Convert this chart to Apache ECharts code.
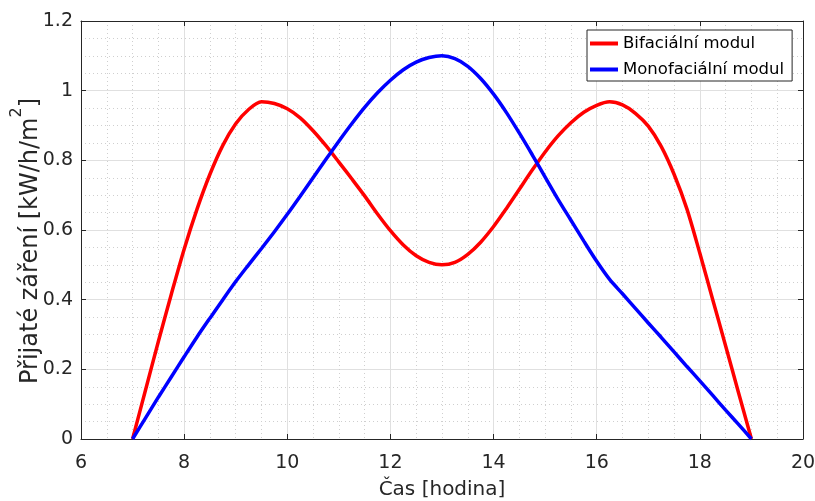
<!DOCTYPE html>
<html lang="cs">
<head>
    <meta charset="UTF-8">
    <title>Přijaté záření</title>
    <style>
        html, body { margin: 0; padding: 0; background: #fff; }
        #chart { width: 815px; height: 501px; }
    </style>
</head>
<body>
    <div id="chart"></div>
    <script src="https://cdn.jsdelivr.net/npm/echarts@6/dist/echarts.min.js"></script>
    <script>
        // hodiny (osa x), po ctvrt hodine
        var hours = [7, 7.25, 7.5, 7.75, 8, 8.25, 8.5, 8.75, 9, 9.25, 9.5, 9.75,
            10, 10.25, 10.5, 10.75, 11, 11.25, 11.5, 11.75, 12, 12.25, 12.5, 12.75,
            13, 13.25, 13.5, 13.75, 14, 14.25, 14.5, 14.75, 15, 15.25, 15.5, 15.75,
            16, 16.25, 16.5, 16.75, 17, 17.25, 17.5, 17.75, 18, 18.25, 18.5, 18.75, 19];
        // Bifaciální modul
        var bifacial = [0, 0.14, 0.28, 0.415, 0.545, 0.66, 0.76, 0.843, 0.905, 0.946, 0.968, 0.963,
            0.948, 0.922, 0.885, 0.842, 0.795, 0.747, 0.698, 0.646, 0.598, 0.557, 0.526, 0.507,
            0.5, 0.507, 0.53, 0.565, 0.61, 0.662, 0.717, 0.772, 0.824, 0.87, 0.908, 0.938,
            0.958, 0.968, 0.959, 0.935, 0.898, 0.84, 0.76, 0.66, 0.533, 0.4, 0.267, 0.133, 0];
        // Monofaciální modul
        var monofacial = [0, 0.06, 0.12, 0.178, 0.236, 0.293, 0.347, 0.4, 0.452, 0.5, 0.547, 0.595,
            0.645, 0.697, 0.75, 0.803, 0.855, 0.905, 0.952, 0.994, 1.03, 1.06, 1.082, 1.095,
            1.1, 1.092, 1.07, 1.035, 0.99, 0.937, 0.878, 0.816, 0.752, 0.688, 0.628, 0.568,
            0.51, 0.458, 0.417, 0.375, 0.333, 0.292, 0.25, 0.208, 0.167, 0.125, 0.083, 0.042, 0];
        var seriesNames = ['Bifaciální modul', 'Monofaciální modul'];

        var font = 'DejaVu Sans';
        var axisColor = '#262626';

        function pairs(ys) {
            return hours.map(function (h, i) { return [h, ys[i]]; });
        }

        // horni/prava osa - jen carky, bez popisku (ramecek jako v MATLABu)
        function mirrorAxis(pos, min, max, interval) {
            return {
                type: 'value', position: pos, min: min, max: max, interval: interval,
                axisLine: { show: true, onZero: false, lineStyle: { color: axisColor, width: 1 } },
                axisTick: { show: true, inside: true, length: 5, lineStyle: { color: axisColor } },
                axisLabel: { show: false },
                splitLine: { show: false }
            };
        }

        var chart = echarts.init(document.getElementById('chart'));
        var option = {
            backgroundColor: '#fff',
            animation: false,
            grid: { left: 81, right: 12, top: 21, bottom: 62, outerBoundsMode: 'none' },
            legend: {
                orient: 'vertical',
                left: 587, top: 30,
                padding: [5, 8, 3, 3],
                itemGap: 9,
                itemWidth: 28, itemHeight: 4,
                icon: 'rect',
                borderColor: axisColor, borderWidth: 1,
                backgroundColor: '#fff',
                textStyle: { fontFamily: font, fontSize: 16.5, color: '#000' },
                data: seriesNames
            },
            xAxis: [{
                type: 'value', min: 6, max: 20, interval: 2,
                name: 'Čas [hodina]', nameLocation: 'middle', nameGap: 41,
                nameTextStyle: { fontFamily: font, fontSize: 20, color: axisColor },
                axisLine: { onZero: false, lineStyle: { color: axisColor, width: 1 } },
                axisTick: { inside: true, length: 5, lineStyle: { color: axisColor } },
                axisLabel: { fontFamily: font, fontSize: 19, color: axisColor, margin: 15 },
                splitLine: { show: true, lineStyle: { color: '#e0e0e0', width: 1 } },
                minorTick: { show: false, splitNumber: 4 },
                minorSplitLine: { show: true, lineStyle: { color: '#cfcfcf', type: [1, 3], width: 1 } }
            }, mirrorAxis('top', 6, 20, 2)],
            yAxis: [{
                type: 'value', min: 0, max: 1.2, interval: 0.2,
                name: '{a|Přijaté záření [kW/h/m}{s|2}{a|]}',
                nameLocation: 'middle', nameGap: 38, nameMoveOverlap: false,
                nameTextStyle: {
                    color: axisColor,
                    padding: [0, 22, 0, 0],
                    rich: {
                        a: { fontFamily: font, fontSize: 24, color: axisColor, lineHeight: 34, verticalAlign: 'bottom' },
                        s: { fontFamily: font, fontSize: 16, color: axisColor, lineHeight: 16, verticalAlign: 'top' }
                    }
                },
                axisLine: { show: true, onZero: false, lineStyle: { color: axisColor, width: 1 } },
                axisTick: { show: true, inside: true, length: 5, lineStyle: { color: axisColor } },
                axisLabel: { fontFamily: font, fontSize: 19, color: axisColor, margin: 8 },
                splitLine: { show: true, lineStyle: { color: '#e0e0e0', width: 1 } },
                minorTick: { show: false, splitNumber: 4 },
                minorSplitLine: { show: true, lineStyle: { color: '#cfcfcf', type: [1, 3], width: 1 } }
            }, mirrorAxis('right', 0, 1.2, 0.2)],
            series: [{
                name: seriesNames[0], type: 'line', smooth: 0.3, showSymbol: false,
                color: '#ff0000', lineStyle: { width: 3.5, color: '#ff0000' },
                data: pairs(bifacial)
            }, {
                name: seriesNames[1], type: 'line', smooth: 0.3, showSymbol: false,
                color: '#0000ff', lineStyle: { width: 3.5, color: '#0000ff' },
                data: pairs(monofacial)
            }]
        };
        chart.setOption(option);
    </script>
</body>
</html>
